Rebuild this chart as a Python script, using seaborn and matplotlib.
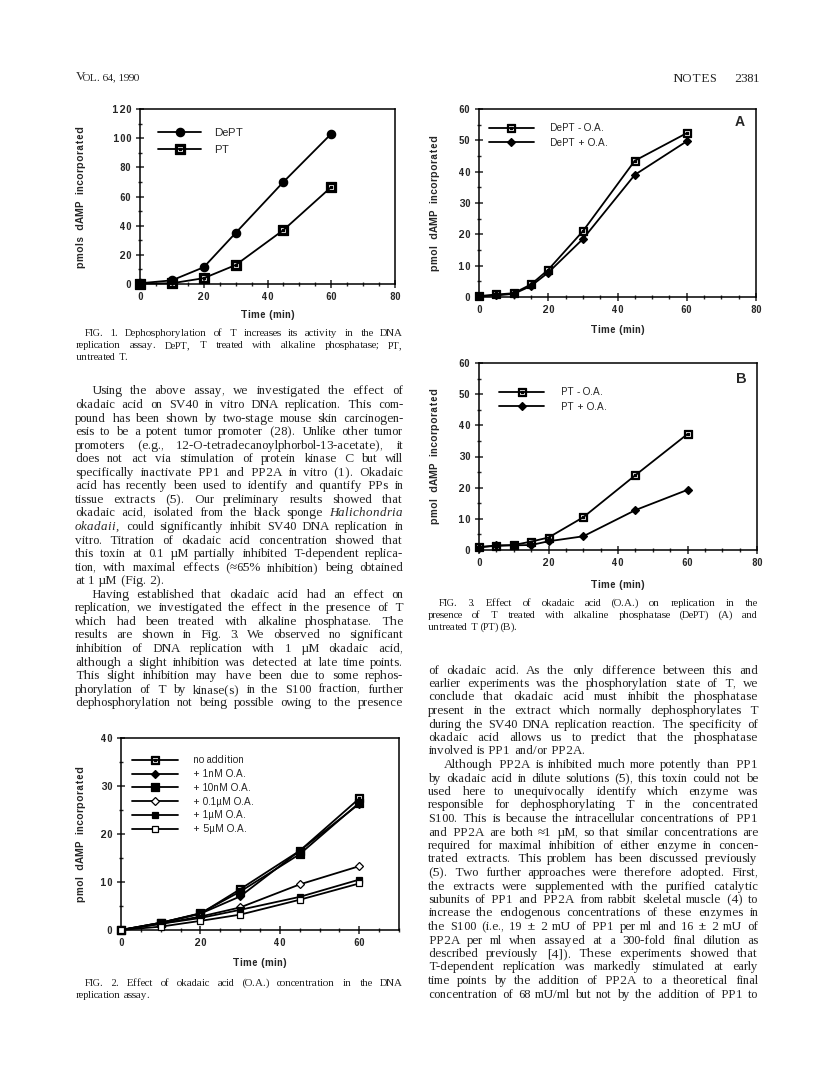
import matplotlib
matplotlib.use("Agg")
import matplotlib.pyplot as plt
import numpy as np
import seaborn as sns
from matplotlib.path import Path
from matplotlib.ticker import MultipleLocator

# ---- data ----
fig1_time = [0, 10, 20, 30, 45, 60]
fig1_dept = [0.5, 2.5, 11.5, 35, 70, 103]
fig1_pt = [0.3, 0.5, 4, 13, 37, 66.5]

fig3_time = [0, 5, 10, 15, 20, 30, 45, 60]
fig3a_minus = [0.3, 0.8, 1.2, 4.0, 8.7, 21.0, 43.5, 52.3]
fig3a_plus = [0.2, 0.5, 1.0, 3.5, 7.8, 18.5, 39.0, 49.7]
fig3b_minus = [1.0, 1.3, 1.6, 2.7, 4.0, 10.5, 24.0, 37.2]
fig3b_plus = [0.8, 1.5, 1.5, 1.6, 2.8, 4.4, 12.8, 19.3]

fig2_time = [0, 10, 20, 30, 45, 60]
fig2_labels = ["no addition", "+ 1nM O.A.", "+ 10nM O.A.",
               "+ 0.1\u00b5M O.A.", "+ 1\u00b5M O.A.", "+ 5\u00b5M O.A."]
fig2_none = [0, 1.5, 3.4, 8.5, 16.5, 27.4]
fig2_1nm = [0, 1.5, 3.4, 7.0, 16.5, 26.3]
fig2_10nm = [0, 1.5, 3.5, 8.0, 15.8, 26.5]
fig2_01um = [0, 1.3, 2.8, 4.7, 9.5, 13.3]
fig2_1um = [0, 1.3, 2.5, 4.2, 6.9, 10.5]
fig2_5um = [0, 0.7, 1.9, 3.2, 6.3, 9.7]

W, H = 816, 1076
sns.set_theme(style="ticks")
plt.rcParams["font.family"] = ["Liberation Sans", "DejaVu Sans"]
plt.rcParams["axes.linewidth"] = 1.1
plt.rcParams["text.hinting_factor"] = 1
SERIF = ["Liberation Serif", "DejaVu Serif"]

fig = plt.figure(figsize=(W / 100, H / 100), dpi=100)
fig.patch.set_facecolor("white")


def box(x0, y0, x1, y1):
    return [x0 / W, 1 - y1 / H, (x1 - x0) / W, (y1 - y0) / H]


def dotsq(hole=0.7, dot=0.22):
    # square outline with a small square dot in the middle
    def sq(h, ccw=True):
        v = [(-h, -h), (h, -h), (h, h), (-h, h), (-h, -h)]
        return v if ccw else v[::-1]
    verts = sq(1) + sq(hole, False) + sq(dot)
    codes = ([Path.MOVETO] + [Path.LINETO] * 3 + [Path.CLOSEPOLY]) * 3
    return Path(verts, codes)


DOTSQ = dotsq()
HEAVYSQ = dotsq(0.5, 0.2)
LW = 1.3


def style_axes(ax, xmax, ymax, ymaj, ymin, tsize=7):
    ax.set_xlim(0, xmax)
    ax.set_ylim(0, ymax)
    ax.xaxis.set_major_locator(MultipleLocator(20))
    ax.xaxis.set_minor_locator(MultipleLocator(5))
    ax.yaxis.set_major_locator(MultipleLocator(ymaj))
    ax.yaxis.set_minor_locator(MultipleLocator(ymin))
    ax.tick_params(which="major", direction="inout", length=6, width=1.1,
                   labelsize=tsize, pad=3)
    ax.tick_params(which="minor", direction="inout", length=3.5, width=1.0)
    for lab in ax.get_xticklabels() + ax.get_yticklabels():
        lab.set_fontweight("bold")
    for s in ax.spines.values():
        s.set_visible(True)
        s.set_color("black")
    ax.set_facecolor("white")
    ax.grid(False)


def set_labels(ax, ylab, ylx, xly, size=7.2):
    ax.set_xlabel("Time (min)", fontsize=size, fontweight="bold")
    ax.set_ylabel(ylab, fontsize=size, fontweight="bold")
    ax.xaxis.set_label_coords(0.5, xly)
    ax.xaxis.label.set_va("center")
    ax.yaxis.set_label_coords(ylx, 0.5)
    ax.yaxis.label.set_va("center")


def line(ax, x, y, label, marker, ms, mfc="black"):
    sns.lineplot(x=x, y=y, ax=ax, color="black", lw=LW, marker=marker,
                 markersize=ms, markerfacecolor=mfc, markeredgecolor="black",
                 markeredgewidth=0.9, label=label, clip_on=False, zorder=3)


# ---- Fig. 1 ----
ax1 = fig.add_axes(box(140, 109, 395, 284))
line(ax1, fig1_time, fig1_dept, "DePT", "o", 6)
line(ax1, fig1_time, fig1_pt, "PT", DOTSQ, 6.5)
style_axes(ax1, 80, 120, 20, 10)
set_labels(ax1, "pmols  dAMP  incorporated", -0.23, -0.177)
ax1.legend(loc="upper left", bbox_to_anchor=(0.07, 0.89), frameon=False,
           fontsize=8, handlelength=3.9, handletextpad=1.2, labelspacing=0.6,
           borderpad=0, borderaxespad=0)

# ---- Fig. 3A ----
ax3a = fig.add_axes(box(479, 109, 756, 297))
line(ax3a, fig3_time, fig3a_minus, "DePT - O.A.", DOTSQ, 6)
line(ax3a, fig3_time, fig3a_plus, "DePT + O.A.", "D", 4.5)
style_axes(ax3a, 80, 60, 10, 5)
set_labels(ax3a, "pmol  dAMP  incorporated", -0.158, -0.175)
ax3a.legend(loc="upper left", bbox_to_anchor=(0.035, 0.925), frameon=False,
            fontsize=7.4, handlelength=4.4, handletextpad=1.6,
            labelspacing=0.45, borderpad=0, borderaxespad=0)
ax3a.text(0.96, 0.93, "A", transform=ax3a.transAxes, fontsize=10,
          fontweight="bold", ha="right", va="center")

# ---- Fig. 3B ----
ax3b = fig.add_axes(box(479, 363, 757, 550))
line(ax3b, fig3_time, fig3b_minus, "PT - O.A.", DOTSQ, 6)
line(ax3b, fig3_time, fig3b_plus, "PT + O.A.", "D", 4.5)
style_axes(ax3b, 80, 60, 10, 5)
set_labels(ax3b, "pmol  dAMP  incorporated", -0.158, -0.187)
ax3b.legend(loc="upper left", bbox_to_anchor=(0.072, 0.87), frameon=False,
            fontsize=7.4, handlelength=4.4, handletextpad=1.6,
            labelspacing=0.45, borderpad=0, borderaxespad=0)
ax3b.text(0.965, 0.915, "B", transform=ax3b.transAxes, fontsize=10,
          fontweight="bold", ha="right", va="center")

# ---- Fig. 2 ----
ax2 = fig.add_axes(box(121, 738, 399, 930))
fig2_series = [fig2_none, fig2_1nm, fig2_10nm, fig2_01um, fig2_1um, fig2_5um]
fig2_marks = [(DOTSQ, 5.5, "black"), ("D", 4.2, "black"),
              (HEAVYSQ, 5.5, "black"), ("D", 4, "white"),
              ("s", 5, "black"), ("s", 5, "white")]
for vals, lab, (mk, ms, fc) in zip(fig2_series, fig2_labels, fig2_marks):
    line(ax2, fig2_time, vals, lab, mk, ms, fc)
style_axes(ax2, 70, 40, 10, 5)
set_labels(ax2, "pmol  dAMP  incorporated", -0.145, -0.172)
ax2.legend(loc="upper left", bbox_to_anchor=(0.04, 0.91), frameon=False,
           fontsize=7.2, handlelength=4.6, handletextpad=1.5,
           labelspacing=0.38, borderpad=0, borderaxespad=0)

# ---- page text ----
renderer = fig.canvas.get_renderer()


def put_block(lines, x0, x1, y0, dy, size, indent=11, last=()):
    for i, ln in enumerate(lines):
        ind = ln.startswith(">")
        words = ln.lstrip(">").split()
        y = round(y0 + i * dy + 3.5)
        objs = []
        for w in words:
            it = w.startswith("_")
            objs.append(fig.text(0, 0, w.lstrip("_"), fontsize=size,
                                 family=SERIF, va="baseline",
                                 style="italic" if it else "normal"))
        widths = [o.get_window_extent(renderer).width for o in objs]
        xs = x0 + (indent if ind else 0)
        if i in last or len(words) < 2:
            gap = size * 1.389 * 0.25
        else:
            gap = (x1 - xs - sum(widths)) / (len(words) - 1)
        x = xs
        for o, w in zip(objs, widths):
            o.set_position((x / W, 1 - y / H))
            x += w + gap


fig.text(76 / W, 1 - 80 / H, "V", fontsize=9, family=SERIF, va="baseline")
fig.text(83 / W, 1 - 80 / H, "OL. 64, 1990", fontsize=8, family=SERIF,
         va="baseline")
fig.text(672 / W, 1 - 82 / H, "NOTES", fontsize=9, family=SERIF,
         va="baseline")
fig.text(760 / W, 1 - 82 / H, "2381", fontsize=9, family=SERIF,
         va="baseline", ha="right")

cap1 = [">FIG. 1. Dephosphorylation of T increases its activity in the DNA",
        "replication assay. DePT, T treated with alkaline phosphatase; PT,",
        "untreated T."]
put_block(cap1, 76, 403, 332, 12, 8, indent=9, last=(2,))

body_left = [
    ">Using the above assay, we investigated the effect of",
    "okadaic acid on SV40 in vitro DNA replication. This com-",
    "pound has been shown by two-stage mouse skin carcinogen-",
    "esis to be a potent tumor promoter (28). Unlike other tumor",
    "promoters (e.g., 12-O-tetradecanoylphorbol-13-acetate), it",
    "does not act via stimulation of protein kinase C but will",
    "specifically inactivate PP1 and PP2A in vitro (1). Okadaic",
    "acid has recently been used to identify and quantify PPs in",
    "tissue extracts (5). Our preliminary results showed that",
    "okadaic acid, isolated from the black sponge _Halichondria",
    "_okadaii, could significantly inhibit SV40 DNA replication in",
    "vitro. Titration of okadaic acid concentration showed that",
    "this toxin at 0.1 \u00b5M partially inhibited T-dependent replica-",
    "tion, with maximal effects (\u224865% inhibition) being obtained",
    "at 1 \u00b5M (Fig. 2).",
    ">Having established that okadaic acid had an effect on",
    "replication, we investigated the effect in the presence of T",
    "which had been treated with alkaline phosphatase. The",
    "results are shown in Fig. 3. We observed no significant",
    "inhibition of DNA replication with 1 \u00b5M okadaic acid,",
    "although a slight inhibition was detected at late time points.",
    "This slight inhibition may have been due to some rephos-",
    "phorylation of T by kinase(s) in the S100 fraction, further",
    "dephosphorylation not being possible owing to the presence"]
put_block(body_left, 75, 403, 391, 13.55, 9.3, indent=16, last=(14,))

cap2 = [">FIG. 2. Effect of okadaic acid (O.A.) concentration in the DNA",
        "replication assay."]
put_block(cap2, 76, 403, 982, 12.5, 8, indent=9, last=(1,))

cap3 = [">FIG. 3. Effect of okadaic acid (O.A.) on replication in the",
        "presence of T treated with alkaline phosphatase (DePT) (A) and",
        "untreated T (PT) (B)."]
put_block(cap3, 428, 758, 602, 12, 8, indent=11, last=(2,))

body_right = [
    "of okadaic acid. As the only difference between this and",
    "earlier experiments was the phosphorylation state of T, we",
    "conclude that okadaic acid must inhibit the phosphatase",
    "present in the extract which normally dephosphorylates T",
    "during the SV40 DNA replication reaction. The specificity of",
    "okadaic acid allows us to predict that the phosphatase",
    "involved is PP1 and/or PP2A.",
    ">Although PP2A is inhibited much more potently than PP1",
    "by okadaic acid in dilute solutions (5), this toxin could not be",
    "used here to unequivocally identify which enzyme was",
    "responsible for dephosphorylating T in the concentrated",
    "S100. This is because the intracellular concentrations of PP1",
    "and PP2A are both \u22481 \u00b5M, so that similar concentrations are",
    "required for maximal inhibition of either enzyme in concen-",
    "trated extracts. This problem has been discussed previously",
    "(5). Two further approaches were therefore adopted. First,",
    "the extracts were supplemented with the purified catalytic",
    "subunits of PP1 and PP2A from rabbit skeletal muscle (4) to",
    "increase the endogenous concentrations of these enzymes in",
    "the S100 (i.e., 19 \u00b1 2 mU of PP1 per ml and 16 \u00b1 2 mU of",
    "PP2A per ml when assayed at a 300-fold final dilution as",
    "described previously [4]). These experiments showed that",
    "T-dependent replication was markedly stimulated at early",
    "time points by the addition of PP2A to a theoretical final",
    "concentration of 68 mU/ml but not by the addition of PP1 to"]
put_block(body_right, 428, 758, 670, 13.5, 9.3, indent=16, last=(6,))

fig.savefig("out.png", dpi=100, facecolor="white")
